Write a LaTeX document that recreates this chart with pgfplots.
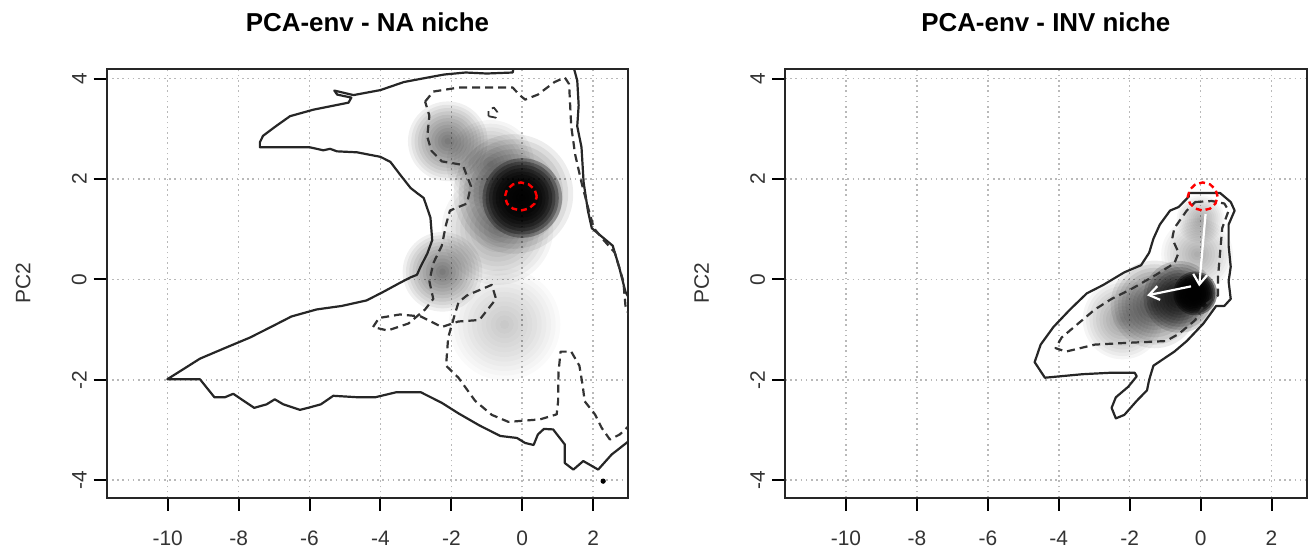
\documentclass[border=0pt]{standalone}
\usepackage{fontspec}
\setmainfont{Liberation Sans}
\usepackage{pgfplots}
\pgfplotsset{compat=1.18}
\usetikzlibrary{arrows.meta}

% density blobs: x y radius(bp) opacity per layer
\pgfplotstableread{
x y r a
0.00 1.62 20 0.30
-0.25 1.70 30 0.07
-0.70 1.00 28 0.04
-2.10 2.75 20 0.06
-2.25 0.15 20 0.06
-0.90 2.30 22 0.04
-0.50 -0.90 28 0.02
}\blobsNA
\pgfplotstableread{
x y r a
-0.15 -0.28 11 0.40
-0.60 -0.35 18 0.15
-1.30 -0.50 22 0.08
-2.20 -0.80 20 0.04
-0.10 0.50 18 0.03
0.00 1.20 12 0.03
}\blobsINV

\pgfplotsset{
  rpanel/.style={
    scale only axis, width=260.8bp, height=214.35bp,
    anchor=south west,
    xmin=-11.72, xmax=2.99, ymin=-4.35, ymax=4.19,
    xtick={-10,-8,-6,-4,-2,0,2}, ytick={-4,-2,0,2,4},
    xtick pos=bottom, ytick pos=left,
    tick align=outside, major tick length=6.5bp,
    tick style={black, line width=1bp},
    axis line style={line width=1bp, black!85},
    grid=major,
    major grid style={gray!55, line width=0.8bp, dash pattern=on 0.8bp off 1.8bp},
    /pgf/number format/assume math mode=true,
    ticklabel style={font=\fontsize{10.5}{12}\selectfont, text=black!80},
    xticklabel style={yshift=-6.5bp},
    yticklabel style={rotate=90, anchor=south},
    ylabel={PC2},
    ylabel style={at={(axis description cs:-0.16,0.5)}, anchor=center,
      font=\fontsize{10.5}{12}\selectfont, text=black!80},
    every axis title shift=0pt,
    title style={at={(axis description cs:0.5,1.087)}, anchor=base,
      font=\fontsize{13}{15}\selectfont\bfseries},
    clip marker paths=true,
  },
  solidc/.style={black!85, line width=1.1bp, line join=round},
  dashc/.style={black!80, line width=1.1bp, dash pattern=on 4bp off 2.5bp, line join=round},
}

\newcommand{\blobs}[1]{%
  \pgfplotsinvokeforeach{1,...,12}{%
    \addplot[scatter, only marks, mark=*,
      scatter/use mapped color={draw=black, fill=black},
      visualization depends on={\thisrow{r}*##1/12 \as \rad},
      visualization depends on={\thisrow{a} \as \alp},
      scatter/@pre marker code/.append style={/tikz/mark size=\rad},
      scatter/@pre marker code/.append code={\pgfsetfillopacity{\alp}\pgfsetstrokeopacity{0}},
    ] table {#1};
  }%
}

\begin{document}
\begin{tikzpicture}
\useasboundingbox (0,0) rectangle (654bp,276bp);

\begin{axis}[rpanel, at={(53.35bp,27.15bp)}, title={PCA-env - NA niche}]
\blobs{\blobsNA}
% outer contour (solid)
\addplot[solidc] coordinates {
(-0.20,4.40) (-0.27,4.12) (-1.0,4.10) (-1.6,4.12) (-2.2,4.08) (-2.59,4.03)
(-3.34,3.93) (-4.0,3.77) (-4.76,3.67) (-5.30,3.76) (-5.22,3.68) (-4.82,3.62)
(-4.90,3.52) (-5.89,3.38) (-6.55,3.25) (-6.93,3.06) (-7.31,2.86) (-7.40,2.73)
(-7.40,2.63) (-5.99,2.63) (-5.61,2.57) (-5.42,2.60) (-5.23,2.55) (-4.66,2.53)
(-4.00,2.44) (-3.72,2.34) (-3.44,2.08) (-3.15,1.82) (-2.97,1.72) (-2.78,1.62)
(-2.59,1.23) (-2.54,0.78) (-2.68,0.51) (-2.87,0.25) (-2.97,0.09) (-3.15,0.04)
(-3.45,-0.07) (-3.92,-0.25) (-4.39,-0.42) (-5.09,-0.53) (-5.80,-0.60) (-6.51,-0.74)
(-7.09,-0.95) (-7.68,-1.16) (-8.39,-1.37) (-9.09,-1.58) (-9.56,-1.79) (-10.01,-1.99)
(-9.09,-1.99) (-8.92,-2.14) (-8.68,-2.35) (-8.39,-2.35) (-8.15,-2.28) (-7.92,-2.39)
(-7.56,-2.56) (-7.21,-2.49) (-6.98,-2.39) (-6.74,-2.49) (-6.27,-2.60) (-6.04,-2.56)
(-5.68,-2.49) (-5.33,-2.32) (-4.62,-2.35) (-4.15,-2.35) (-3.56,-2.25) (-2.86,-2.25)
(-2.27,-2.46) (-1.80,-2.67) (-1.21,-2.91) (-0.62,-3.12) (-0.15,-3.16) (0.08,-3.26)
(0.32,-3.30) (0.44,-3.09) (0.61,-2.98) (0.87,-2.99) (1.20,-3.29) (1.20,-3.66)
(1.44,-3.79) (1.72,-3.62) (2.14,-3.79) (2.52,-3.49) (2.99,-3.23) (3.30,-3.05)
(3.30,-0.60) (3.14,-0.53) (2.91,-0.25) (2.73,0.25) (2.55,0.67) (2.26,0.84)
(1.96,1.02) (1.85,1.37) (1.73,1.93) (1.67,2.63) (1.55,3.05) (1.59,3.47)
(1.55,3.96) (1.38,4.40) (-0.20,4.40)
};
% inner contour (dashed)
\addplot[dashc] coordinates {
(-2.74,3.54) (-2.51,3.74) (-1.80,3.82) (-0.27,3.82) (-0.09,3.68) (0.08,3.58)
(0.44,3.68) (0.91,3.93) (1.20,4.02) (1.32,3.89) (1.35,3.47) (1.38,3.05)
(1.49,2.49) (1.67,1.93) (1.85,1.44) (2.02,1.02) (2.26,0.81) (2.61,0.53)
(2.85,-0.04) (2.91,-0.53) (3.02,-0.74) (3.20,-1.00) (3.20,-2.85) (2.99,-2.93)
(2.75,-3.09) (2.47,-3.19) (2.24,-2.96) (2.05,-2.69) (1.76,-2.43) (1.70,-2.10)
(1.61,-1.72) (1.38,-1.44) (1.08,-1.44) (1.02,-1.86) (1.01,-2.43) (0.97,-2.69)
(0.50,-2.79) (-0.39,-2.84) (-0.86,-2.70) (-1.33,-2.42) (-1.80,-1.96) (-2.15,-1.72)
(-2.09,-1.16) (-1.92,-0.74) (-1.80,-0.46) (-1.56,-0.32) (-0.86,-0.11) (-0.74,-0.39)
(-1.21,-0.81) (-1.80,-0.84) (-2.27,-0.95) (-2.86,-0.74) (-3.45,-0.70) (-4.04,-0.77)
(-4.21,-0.95) (-3.80,-1.02) (-3.21,-0.88) (-2.74,-0.60) (-2.51,-0.39) (-2.62,-0.04)
(-2.51,0.32) (-2.27,0.67) (-2.15,1.09) (-2.04,1.37) (-1.56,1.51) (-1.45,1.86)
(-1.68,2.28) (-2.27,2.35) (-2.56,2.56) (-2.68,2.84) (-2.62,3.26) (-2.74,3.54)
};
\addplot[dashc, line width=0.9bp] coordinates {
(-0.95,3.25) (-0.75,3.22) (-0.70,3.33) (-0.80,3.42) (-0.95,3.38) (-0.95,3.25)
};
\addplot[only marks, mark=*, mark size=1.1bp, black] coordinates {(2.28,-4.02)};
% centroid circle
\addplot[red, line width=1.2bp, dash pattern=on 3bp off 2bp] coordinates {
(0.41,1.65) (0.35,1.79) (0.185,1.89) (-0.04,1.93) (-0.265,1.89) (-0.43,1.79)
(-0.49,1.65) (-0.43,1.51) (-0.265,1.41) (-0.04,1.37) (0.185,1.41) (0.35,1.51)
(0.41,1.65)
};
\end{axis}

\begin{axis}[rpanel, at={(392.5bp,27.15bp)}, title={PCA-env - INV niche}]
\blobs{\blobsINV}
\addplot[solidc] coordinates {
(-0.33,1.72) (0.55,1.72) (0.85,1.54) (0.96,1.37) (0.79,1.09) (0.79,0.67)
(0.85,0.25) (0.79,-0.04) (0.85,-0.39) (0.67,-0.53) (0.44,-0.53) (0.08,-0.88)
(-0.39,-1.23) (-0.74,-1.44) (-1.33,-1.72) (-1.45,-2.00) (-1.51,-2.21) (-1.80,-2.42)
(-2.15,-2.70) (-2.39,-2.77) (-2.51,-2.56) (-2.39,-2.35) (-2.04,-2.14) (-1.80,-1.93)
(-1.86,-1.86) (-2.51,-1.86) (-3.33,-1.89) (-4.39,-1.96) (-4.68,-1.65) (-4.51,-1.30)
(-4.15,-0.95) (-3.68,-0.60) (-3.21,-0.28) (-2.74,-0.11) (-2.15,0.14) (-1.68,0.28)
(-1.45,0.53) (-1.33,0.81) (-1.15,1.09) (-0.86,1.37) (-0.62,1.44) (-0.33,1.65)
(-0.33,1.72)
};
\addplot[dashc] coordinates {
(-0.15,1.54) (0.32,1.56) (0.67,1.51) (0.79,1.37) (0.61,1.02) (0.55,0.53)
(0.49,0.04) (0.49,-0.32) (0.08,-0.53) (-0.15,-0.81) (-0.62,-1.09) (-0.98,-1.23)
(-1.92,-1.26) (-2.98,-1.30) (-3.80,-1.44) (-4.09,-1.37) (-3.92,-1.16) (-3.45,-0.88)
(-2.98,-0.60) (-2.51,-0.39) (-1.92,-0.18) (-1.21,0.11) (-0.74,0.32) (-0.62,0.53)
(-0.80,0.81) (-0.74,1.02) (-0.39,1.37) (-0.15,1.54)
};
% centroid shift arrows
\addplot[white, line width=1.1bp, -{Straight Barb[length=5bp,width=7bp]}] coordinates {(0.14,1.30) (-0.04,-0.14)};
\addplot[white, line width=1.1bp, -{Straight Barb[length=5bp,width=7bp]}] coordinates {(-0.27,-0.14) (-1.51,-0.32)};
\addplot[red, line width=1.2bp, dash pattern=on 3bp off 2bp] coordinates {
(0.48,1.65) (0.42,1.79) (0.27,1.89) (0.06,1.93) (-0.15,1.89) (-0.30,1.79)
(-0.36,1.65) (-0.30,1.51) (-0.15,1.41) (0.06,1.37) (0.27,1.41) (0.42,1.51)
(0.48,1.65)
};
\end{axis}
\end{tikzpicture}
\end{document}
